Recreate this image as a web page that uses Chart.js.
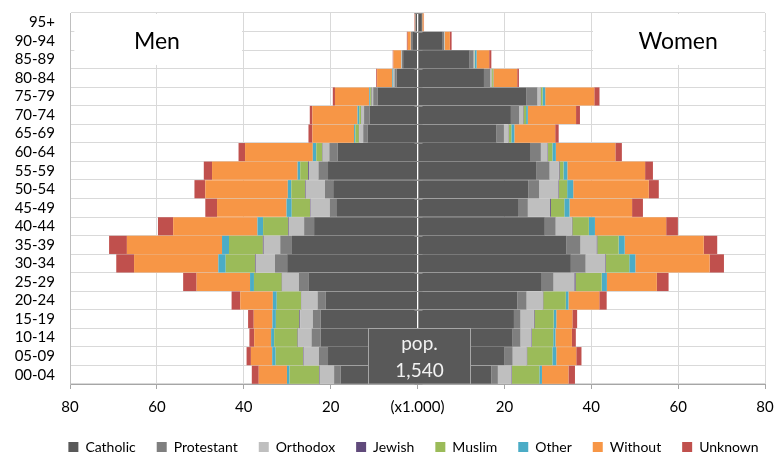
<!DOCTYPE html>
<html>
<head>
<meta charset="utf-8">
<script src="https://cdn.jsdelivr.net/npm/chart.js@4.4.0/dist/chart.umd.min.js"></script>
<style>
  body { margin: 0; background: #fff; }
</style>
</head>
<body>
<canvas id="pyramid" width="775" height="455"></canvas>
<script>
// age groups, top to bottom
const ageGroups = ["95+", "90-94", "85-89", "80-84", "75-79", "70-74", "65-69", "60-64", "55-59", "50-54",
  "45-49", "40-44", "35-39", "30-34", "25-29", "20-24", "15-19", "10-14", "05-09", "00-04"];
const religions = ["Catholic", "Protestant", "Orthodox", "Jewish", "Muslim", "Other", "Without", "Unknown"];
const religionColors = ["#595959", "#7f7f7f", "#bfbfbf", "#604a7b", "#9bbb59", "#4bacc6", "#f79646", "#c0504d"];
const xTicks = [-80, -60, -40, -20, 0, 20, 40, 60, 80];
const popLabel = ["pop.", "1,540"];

// men, thousands
const menCatholic   = [0.4, 1.2, 3.3, 4.8, 9.2, 11.0, 11.5, 18.4, 20.6, 19.4, 18.7, 23.8, 28.9, 30.0, 25.0, 21.1, 22.3, 22.3, 20.6, 17.7];
const menProtestant = [0.1, 0.3, 0.3, 0.5, 1.0, 1.3, 1.0, 1.9, 2.2, 1.9, 1.5, 2.3, 2.7, 2.8, 2.3, 1.9, 1.8, 2.1, 2.1, 1.5];
const menOrthodox   = [0, 0.05, 0.1, 0.2, 0.3, 0.6, 0.9, 1.5, 2.2, 4.4, 4.4, 3.5, 3.8, 4.4, 3.8, 3.7, 2.9, 3.1, 3.5, 3.3];
const menJewish     = [0, 0, 0, 0.05, 0.1, 0.1, 0.1, 0.1, 0.2, 0.15, 0.15, 0.15, 0.2, 0.15, 0.15, 0.1, 0.2, 0.1, 0.15, 0.15];
const menMuslim     = [0, 0, 0, 0.05, 0.3, 0.4, 0.8, 1.4, 1.8, 3.2, 4.2, 5.8, 7.8, 6.8, 6.4, 5.6, 5.4, 5.4, 6.3, 6.8];
const menOther      = [0, 0, 0.05, 0.2, 0.2, 0.4, 0.3, 0.8, 0.6, 0.8, 1.2, 1.3, 1.6, 1.7, 0.9, 0.9, 0.8, 0.7, 0.8, 0.6];
const menWithout    = [0.1, 0.7, 1.8, 3.5, 7.9, 10.4, 9.6, 15.6, 19.7, 19.0, 16.0, 19.4, 21.9, 19.4, 12.3, 7.5, 4.3, 3.9, 4.9, 6.5];
const menUnknown    = [0.1, 0.2, 0.15, 0.2, 0.5, 0.6, 0.9, 1.5, 1.9, 2.5, 2.7, 3.5, 4.1, 4.1, 3.1, 2.0, 1.3, 1.1, 1.0, 1.6];

// women, thousands
const womenCatholic   = [1.0, 5.8, 12.0, 15.3, 25.1, 21.5, 18.2, 25.9, 27.3, 25.5, 23.3, 29.3, 34.3, 35.3, 28.6, 23.0, 22.2, 21.9, 20.0, 17.0];
const womenProtestant = [0.1, 0.3, 0.9, 1.4, 2.5, 1.9, 1.7, 2.5, 3.1, 2.5, 2.1, 2.5, 3.2, 3.4, 2.7, 2.1, 1.5, 1.8, 1.9, 1.5];
const womenOrthodox   = [0, 0.1, 0.2, 0.3, 0.7, 0.9, 1.0, 1.5, 2.1, 4.4, 5.1, 3.7, 3.7, 4.5, 4.8, 3.7, 3.1, 2.5, 3.2, 3.1];
const womenJewish     = [0, 0, 0, 0.05, 0.1, 0.1, 0.1, 0.15, 0.2, 0.15, 0.2, 0.15, 0.2, 0.15, 0.3, 0.15, 0.15, 0.15, 0.15, 0.15];
const womenMuslim     = [0, 0, 0.1, 0.3, 0.4, 0.6, 0.6, 1.0, 0.9, 1.9, 3.1, 3.8, 4.9, 5.4, 6.0, 5.2, 4.4, 4.9, 5.8, 6.3];
const womenOther      = [0, 0.05, 0.4, 0.1, 0.6, 0.4, 0.7, 0.8, 0.9, 1.4, 1.2, 1.4, 1.4, 1.4, 1.2, 0.6, 0.6, 0.5, 0.9, 0.6];
const womenWithout    = [0.3, 1.2, 2.9, 5.5, 11.3, 11.1, 9.4, 13.7, 17.9, 17.4, 14.4, 16.4, 18.2, 17.1, 11.5, 7.1, 3.7, 3.8, 4.6, 6.1];
const womenUnknown    = [0.1, 0.4, 0.5, 0.4, 1.2, 0.9, 0.8, 1.5, 1.8, 2.3, 2.5, 2.7, 3.1, 3.3, 2.7, 1.7, 1.1, 0.9, 1.2, 1.5];

const menSeries = [menCatholic, menProtestant, menOrthodox, menJewish, menMuslim, menOther, menWithout, menUnknown];
const womenSeries = [womenCatholic, womenProtestant, womenOrthodox, womenJewish, womenMuslim, womenOther, womenWithout, womenUnknown];

const FONT = "Lato, 'DejaVu Sans', sans-serif";

let datasets = [];
religions.forEach(function (name, i) {
  datasets.push({
    label: name,
    data: menSeries[i].map(v => -v), // men to the left
    backgroundColor: religionColors[i],
    borderWidth: 0,
    barPercentage: 1,
    categoryPercentage: 0.98,
  });
});
religions.forEach(function (name, i) {
  datasets.push({
    label: name,
    data: womenSeries[i],
    backgroundColor: religionColors[i],
    borderWidth: 0,
    barPercentage: 1,
    categoryPercentage: 0.98,
  });
});

// text boxes, centre axis and the pop. box
const decorations = {
  id: "decorations",
  afterLayout(chart) {
    // legend sits a bit right of centre in the original
    chart.legend.left += 31;
    chart.legend.right += 31;
  },
  beforeDatasetsDraw(chart) {
    const c = chart.ctx;
    const xs = chart.scales.x, ys = chart.scales.y;
    const area = chart.chartArea;
    const rowH = (area.bottom - area.top) / ageGroups.length;
    const boxBottom = ys.getPixelForValue(2) + rowH * 0.3;

    c.save();
    c.fillStyle = "#fff";
    c.fillRect(xs.getPixelForValue(-79), area.top + 1, xs.getPixelForValue(-40.4) - xs.getPixelForValue(-79), boxBottom - area.top - 1);
    c.fillRect(xs.getPixelForValue(40.4), area.top + 1, xs.getPixelForValue(79.6) - xs.getPixelForValue(40.4), boxBottom - area.top - 1);
    c.fillStyle = "#000";
    c.font = "23px " + FONT;
    c.textAlign = "center";
    c.textBaseline = "middle";
    c.fillText("Men", xs.getPixelForValue(-60), ys.getPixelForValue(1) + 1);
    c.fillText("Women", xs.getPixelForValue(60), ys.getPixelForValue(1) + 1);
    c.restore();
  },
  afterDatasetsDraw(chart) {
    const c = chart.ctx;
    const xs = chart.scales.x, ys = chart.scales.y;
    const area = chart.chartArea;
    const rowH = (area.bottom - area.top) / ageGroups.length;
    const x0 = Math.round(xs.getPixelForValue(0)) + 0.5;

    c.save();
    c.strokeStyle = "#8a8a8a";
    c.lineWidth = 1;
    c.beginPath();
    c.moveTo(x0, area.top);
    c.lineTo(x0, area.bottom);
    for (let i = 0; i <= ageGroups.length; i++) {
      const y = Math.round(area.top + i * rowH) + 0.5;
      c.moveTo(x0 - 4, y);
      c.lineTo(x0 + 4, y);
    }
    c.stroke();

    // pop. box
    const bx = Math.round(xs.getPixelForValue(-11.5)) + 0.5;
    const bx2 = Math.round(xs.getPixelForValue(12)) + 0.5;
    const by = Math.round(ys.getPixelForValue(17) - rowH / 2) + 0.5;
    const by2 = area.bottom;
    c.fillStyle = "#595959";
    c.fillRect(bx, by, bx2 - bx, by2 - by);
    c.strokeStyle = "#a6a6a6";
    c.strokeRect(bx, by, bx2 - bx, by2 - by);
    c.fillStyle = "#f2f2f2";
    c.font = "19px " + FONT;
    c.textAlign = "center";
    c.textBaseline = "middle";
    const cx = (bx + bx2) / 2, cy = (by + by2) / 2;
    c.fillText(popLabel[0], cx, cy - 12);
    c.fillText(popLabel[1], cx, cy + 15);
    c.restore();
  },
};

const ctx = document.getElementById("pyramid").getContext("2d");
const pyramid = new Chart(ctx, {
  type: "bar",
  data: { labels: ageGroups, datasets: datasets },
  options: {
    indexAxis: "y",
    responsive: false,
    animation: false,
    layout: { padding: { left: 0, right: 10, top: 13, bottom: -9 } },
    plugins: {
      legend: {
        position: "bottom",
        labels: {
          filter: item => item.datasetIndex < religions.length,
          boxWidth: 10,
          boxHeight: 10,
          padding: 21,
          color: "#000",
          font: { family: FONT, size: 14 },
        },
      },
      tooltip: { enabled: false },
    },
    scales: {
      x: {
        stacked: true,
        min: -80,
        max: 80,
        afterBuildTicks: scale => { scale.ticks = xTicks.map(v => ({ value: v })); },
        afterFit: scale => {
          scale.height = 35;
          scale.paddingLeft = 0;
          scale.paddingRight = 0;
        },
        ticks: {
          callback: v => v === 0 ? "(x1.000)" : Math.abs(v),
          color: "#000",
          padding: 9,
          maxRotation: 0,
          font: { family: FONT, size: 15 },
        },
        grid: {
          color: c => (c.tick && c.tick.value === 0) ? "rgba(0,0,0,0)" : "#d9d9d9",
          tickColor: "#a6a6a6",
          tickLength: 5,
        },
        border: { color: "#a6a6a6" },
      },
      y: {
        stacked: true,
        afterFit: scale => {
          scale.width = 70;
          scale.paddingTop = 0;
          scale.paddingBottom = 0;
        },
        ticks: {
          color: "#000",
          padding: 15,
          autoSkip: false,
          font: { family: FONT, size: 15 },
        },
        grid: { color: "#d9d9d9", drawTicks: false },
        border: { color: "#bfbfbf" },
      },
    },
  },
  plugins: [decorations],
});
</script>
</body>
</html>
